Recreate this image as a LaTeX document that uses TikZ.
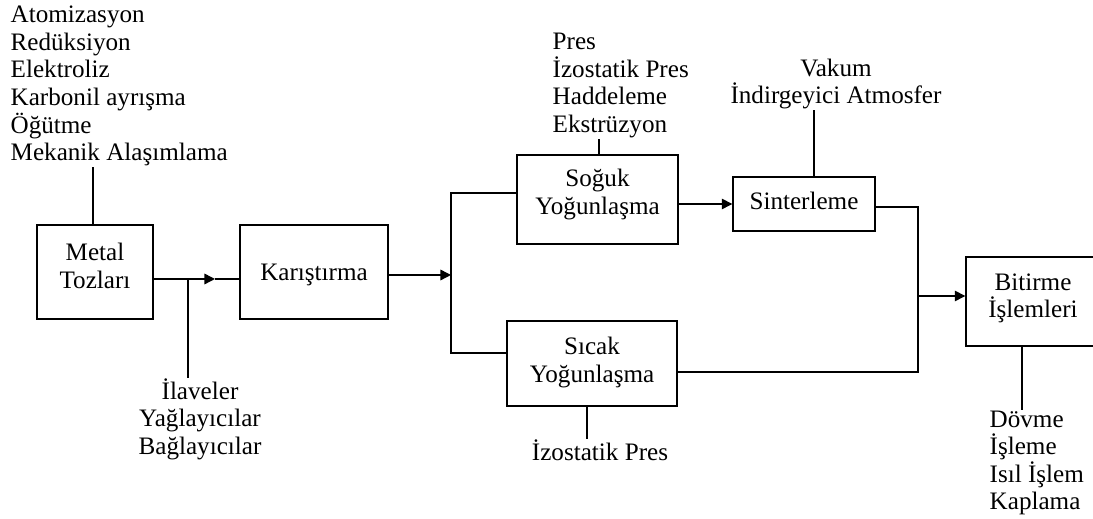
\documentclass[tikz,border=0pt]{standalone}
\usepackage{fontspec}
\setmainfont{Liberation Serif}
\usetikzlibrary{arrows.meta}
\newcommand{\yazi}{\fontsize{14.3pt}{15.7pt}\selectfont}

\begin{document}
\begin{tikzpicture}[x=0.02cm, y=-0.02cm, >={Triangle[length=6pt,width=6pt]}, line width=0.8pt,
    blok/.style={draw, align=center, font=\yazi, inner sep=0pt},
    liste/.style={align=left, font=\yazi, inner sep=0pt}]
\useasboundingbox (0,0) rectangle (1093,519);
\clip (0,0) rectangle (1093,519);

\foreach \ad/\x/\y/\w/\h/\d/\t in {metal/95/272/116/94/7/{Metal\\Tozları}, kar/314/272/148/94/0/Karıştırma, soguk/597.5/199.5/161/89/9/{Soğuk\\Yoğunlaşma}, sicak/592/363.5/170/85/4.2/{Sıcak\\Yoğunlaşma}, sinter/804/204/142/54/4.2/Sinterleme, bitir/1033/301.5/134/89/6.4/{Bitirme\\İşlemleri}}
{
    \node (\ad) at (\x,\y)[blok, text depth=\d pt, minimum width=\w*0.02cm, minimum height=\h*0.02cm]{\t};
}

\node (toz) at (10,86)[liste, anchor=west]{Atomizasyon\\Redüksiyon\\Elektroliz\\Karbonil ayrışma\\Öğütme\\Mekanik Alaşımlama};
\node (ilave) at (200,419)[liste, align=center]{İlaveler\\Yağlayıcılar\\Bağlayıcılar};
\node (pres) at (552,85.5)[liste, anchor=west]{Pres\\İzostatik Pres\\Haddeleme\\Ekstrüzyon};
\node (vakum) at (836,84)[liste, align=center]{Vakum\\İndirgeyici Atmosfer};
\node (izo) at (600,450)[liste]{İzostatik Pres};
\node (dovme) at (989,463)[liste, anchor=west]{Dövme\\İşleme\\Isıl İşlem\\Kaplama};

\coordinate (ok1) at (215,279);
\coordinate (j1) at (188,279);
\coordinate (ayr) at (451,275);
\coordinate (bir) at (918,296);

\draw[->] (metal.east |- ok1) -- (ok1);
\draw (ok1) -- (kar.west |- ok1);
\draw (j1) -- (j1 |- ilave.north);
\draw ([xshift=-0.04cm]metal.north) -- ([xshift=-0.04cm]metal.north |- toz.south);
\draw[->] (kar.east |- ayr) -- (ayr);
\draw ([yshift=0.13cm]soguk.west) -| (ayr) |- ([yshift=0.21cm]sicak.west);
\draw ([xshift=0.03cm]soguk.north) -- ([xshift=0.03cm]soguk.north |- pres.south);
\draw ([xshift=-0.1cm]sicak.south) -- ([xshift=-0.1cm]sicak.south |- izo.north);
\draw[->] (soguk.east |- sinter.west) -- (sinter.west);
\draw ([xshift=0.2cm]sinter.north) -- ([xshift=0.2cm]sinter.north |- vakum.south);
\draw ([yshift=-0.06cm]sinter.east) -| (bir) |- ([yshift=-0.17cm]sicak.east);
\draw[->] (bir) -- (bitir.west |- bir);
\draw ([xshift=-0.22cm]bitir.south) -- ([xshift=-0.22cm]bitir.south |- dovme.north);
\end{tikzpicture}
\end{document}
